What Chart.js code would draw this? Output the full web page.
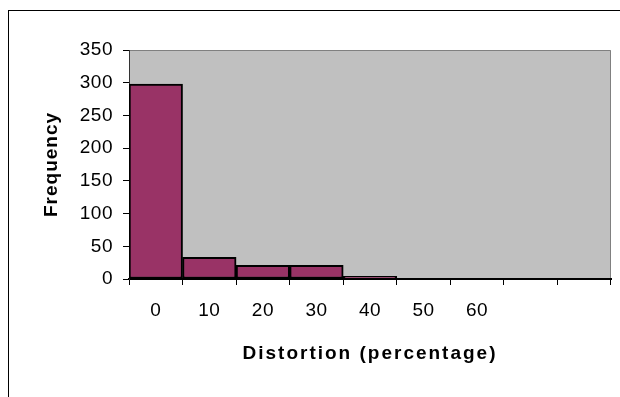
<!DOCTYPE html>
<html>
<head>
<meta charset="utf-8">
<style>
  html, body { margin: 0; padding: 0; background: #ffffff; }
  #wrap { width: 620px; height: 397px; position: relative; }
</style>
<script src="https://cdn.jsdelivr.net/npm/chart.js@4"></script>
</head>
<body>
<div id="wrap"><canvas id="hist" width="620" height="397"></canvas></div>
<script>
// Histogram of distortion (percentage) bins
const binLabels = ['0', '10', '20', '30', '40', '50', '60', '', ''];
const frequencies = [298, 33, 21, 21, 4, 0, 0, 0, 0];
const yTickValues = [0, 50, 100, 150, 200, 250, 300, 350];

const FONT = 'Arial, "Liberation Sans", sans-serif';

// Letter spacing used for each scale's labels and title
const spacing = {
  x: { labels: '0.5px', title: '2px' },
  y: { labels: '0.5px', title: '1px' }
};

function withSpacing(ctx, value, fn) {
  const prev = ctx.letterSpacing;
  ctx.letterSpacing = value;
  fn();
  ctx.letterSpacing = prev;
}

// Gray plot background, gray top/right plot border, outer black frame
const framePlugin = {
  id: 'frame',
  beforeDraw(chart) {
    const ctx = chart.ctx;
    const a = chart.chartArea;

    Object.keys(spacing).forEach(id => {
      const scale = chart.scales[id];
      if (!scale || scale._spaced) return;
      const drawTitle = scale.drawTitle.bind(scale);
      const drawLabels = scale.drawLabels.bind(scale);
      scale.drawTitle = function () { withSpacing(ctx, spacing[id].title, drawTitle); };
      scale.drawLabels = function (area) { withSpacing(ctx, spacing[id].labels, () => drawLabels(area)); };
      scale._spaced = true;
    });

    ctx.save();
    ctx.fillStyle = '#ffffff';
    ctx.fillRect(0, 0, chart.width, chart.height);
    ctx.strokeStyle = '#000000';
    ctx.lineWidth = 1;
    ctx.strokeRect(8.5, 10.5, 1000, 1000);
    ctx.fillStyle = '#c0c0c0';
    ctx.fillRect(a.left, a.top, a.right - a.left, a.bottom - a.top);
    ctx.strokeStyle = '#808080';
    ctx.beginPath();
    ctx.moveTo(a.left, a.top + 0.5);
    ctx.lineTo(a.right - 0.5, a.top + 0.5);
    ctx.lineTo(a.right - 0.5, a.bottom);
    ctx.stroke();
    ctx.restore();
  }
};

new Chart(document.getElementById('hist'), {
  type: 'bar',
  data: {
    labels: binLabels,
    datasets: [{
      data: frequencies,
      backgroundColor: '#993366',
      borderColor: '#000000',
      borderWidth: 2,
      borderSkipped: false,
      barPercentage: 1,
      categoryPercentage: 1
    }]
  },
  options: {
    responsive: false,
    animation: false,
    events: [],
    layout: { padding: { left: 20, top: 50, right: 9, bottom: 28 } },
    plugins: {
      legend: { display: false },
      tooltip: { enabled: false }
    },
    scales: {
      x: {
        offset: true,
        grid: {
          offset: true,
          drawOnChartArea: false,
          color: '#000000',
          tickLength: 6,
          lineWidth: 1
        },
        border: { color: '#000000', width: 2 },
        ticks: {
          color: '#000000',
          font: { family: FONT, size: 19 },
          padding: 14,
          maxRotation: 0,
          autoSkip: false
        },
        title: {
          display: true,
          text: 'Distortion (percentage)',
          color: '#000000',
          font: { family: FONT, size: 19, weight: 'bold' },
          padding: { top: 0, bottom: 3.6 }
        },
        afterFit(scale) { scale.height = 90; }
      },
      y: {
        min: 0,
        max: 350,
        afterBuildTicks(scale) {
          scale.ticks = yTickValues.map(v => ({ value: v }));
        },
        grid: {
          drawOnChartArea: false,
          color: '#000000',
          tickLength: 6
        },
        border: { color: '#333333', width: 1 },
        ticks: {
          color: '#000000',
          font: { family: FONT, size: 19 },
          padding: 10
        },
        title: {
          display: true,
          text: 'Frequency',
          color: '#000000',
          font: { family: FONT, size: 19, weight: 'bold' },
          padding: { top: 20, bottom: 0 }
        },
        afterFit(scale) { scale.width = 109; }
      }
    }
  },
  plugins: [framePlugin]
});
</script>
</body>
</html>
